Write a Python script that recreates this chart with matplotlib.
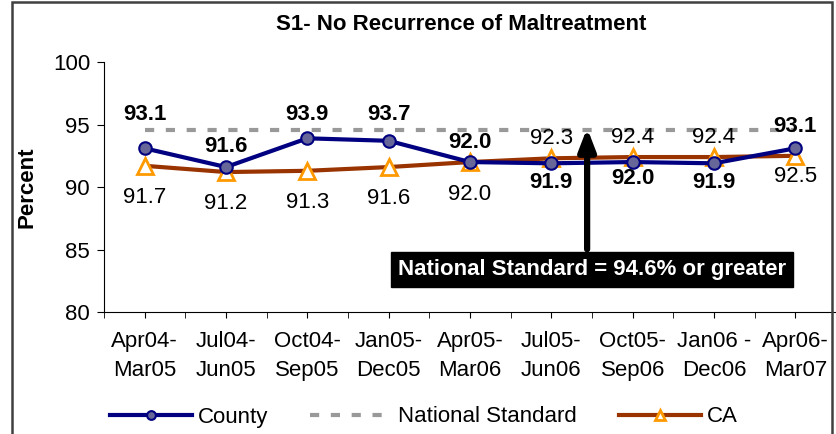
import numpy as np
import matplotlib
matplotlib.use('Agg')
import matplotlib.pyplot as plt
from matplotlib.patches import Rectangle

plt.rcParams['font.family'] = ['Liberation Sans', 'DejaVu Sans']

periodes = ['Apr04-\nMar05', 'Jul04-\nJun05', 'Oct04-\nSep05', 'Jan05-\nDec05', 'Apr05-\nMar06',
            'Jul05-\nJun06', 'Oct05-\nSep06', 'Jan06 -\nDec06', 'Apr06-\nMar07']
county = [93.1, 91.6, 93.9, 93.7, 92.0, 91.9, 92.0, 91.9, 93.1]
ca = [91.7, 91.2, 91.3, 91.6, 92.0, 92.3, 92.4, 92.4, 92.5]
standard = 94.6

# décalage vertical des étiquettes (en points)
dec_county = [24, 15, 17, 19, 14, -14, -12, -14, 16]
dec_ca = [-23, -23, -23, -23, -23, 14, 14, 14, -15]

fs = 16

fig = plt.figure(figsize=(8.36, 4.34), dpi=100)
ax = fig.add_axes([0.1244, 0.281, 0.8756, 0.576])
x = np.arange(len(periodes))

ax.plot(x, [standard]*len(x), color='#999999', lw=3, ls=(0, (2.2, 2.8)), label='National Standard', zorder=2)
ax.plot(x, ca, color='#993300', lw=3, marker='^', ms=11, mfc='white', mec='#FF9900', mew=2,
        label='CA', zorder=3)
ax.plot(x, county, color='#000080', lw=3, marker='o', ms=9, mfc='#666699', mec='#000080', mew=1.5,
        label='County', zorder=4)

for i in range(len(x)):
    ax.annotate('%.1f' % county[i], (x[i], county[i]), xytext=(0, dec_county[i]), textcoords='offset points',
                ha='center', va='center', fontsize=fs, fontweight='bold', zorder=6)
    ax.annotate('%.1f' % ca[i], (x[i], ca[i]), xytext=(0, dec_ca[i]), textcoords='offset points',
                ha='center', va='center', fontsize=fs, zorder=6)

ax.set_xlim(-0.5, 8.5)
ax.set_ylim(80, 100)
ax.set_yticks(np.arange(80, 101, 5))
ax.set_xticks(x)
ax.set_xticks(np.arange(-0.5, 8.6, 1), minor=True)
ax.set_xticklabels(periodes, fontsize=fs, linespacing=1.45)
ax.tick_params(axis='y', labelsize=fs, length=5, direction='out', pad=5)
ax.tick_params(axis='x', which='both', length=4, direction='out', pad=10)
for s in ['top', 'right']:
    ax.spines[s].set_visible(False)
ax.set_ylabel('Percent', fontsize=fs, fontweight='bold', labelpad=11)
fig.text(461/836, 1 - 24/434, 'S1- No Recurrence of Maltreatment', ha='center', va='center',
         fontsize=fs, fontweight='bold')

# flèche et encadré de la norme nationale
ax.annotate('', xy=(5.44, 94.95), xytext=(5.44, 84.8),
            arrowprops=dict(arrowstyle='-|>,head_width=0.5,head_length=1.3', color='black', lw=4.5),
            zorder=7)
ax.text(5.50, 83.4, 'National Standard = 94.6% or greater', ha='center', va='center',
        fontsize=fs, fontweight='bold', color='white', zorder=8,
        bbox=dict(boxstyle='square,pad=0.32', fc='black', ec='black'))

h, l = ax.get_legend_handles_labels()
ordre = [2, 0, 1]
fig.legend([h[k] for k in ordre], [l[k] for k in ordre], loc='center', bbox_to_anchor=(424/836, 1 - 417/434),
           ncol=3, frameon=False, fontsize=fs, handlelength=3.7, columnspacing=1.9, handletextpad=0.25,
           markerscale=0.7)

fig.patches.append(Rectangle((12/836, -0.05), 820/836, 1.045, transform=fig.transFigure,
                             fill=False, ec='#404040', lw=1.8, zorder=10))

fig.savefig('out.png', dpi=100)
